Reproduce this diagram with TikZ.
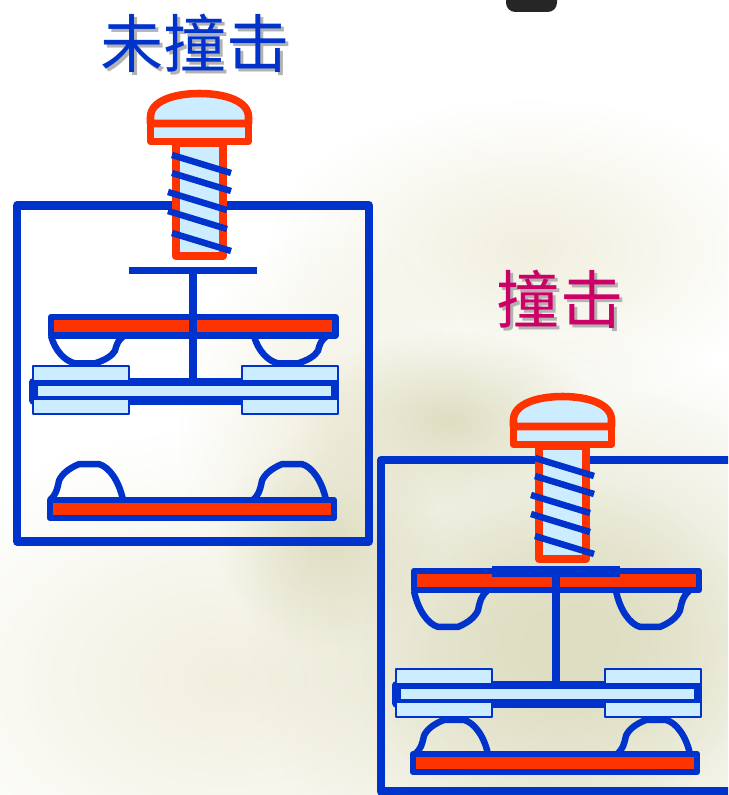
\documentclass[tikz,border=0pt]{standalone}
\usepackage{fontspec}
\newfontfamily\cjk{Noto Sans CJK SC}
\usetikzlibrary{fadings}
\definecolor{kblue}{RGB}{0,51,204}
\definecolor{kred}{RGB}{255,51,0}
\definecolor{klight}{RGB}{204,236,255}
\definecolor{kmag}{RGB}{204,0,102}
\definecolor{cream}{RGB}{241,239,222}
\definecolor{olive}{RGB}{222,222,194}
\def\px{0.92pt}
\tikzfading[name=softblob, inner color=transparent!0, outer color=transparent!100]
\tikzset{
	title/.style={font=\cjk\fontsize{54}{60}\selectfont, inner sep=0pt},
	plate/.style={draw=kblue, fill=kred, line width=6*\px},
	pad/.style={draw=kblue, fill=klight, line width=1.5*\px},
	% contact cup, feet at (0,0) and (73,0)
	pics/dome/.style={code={
		\draw[kblue, line width=6*\px] (0,0) .. controls (4,14) and (14,24) .. (24,26)
		-- (44,26) .. controls (54,23) and (61,19) .. (64,14)
		.. controls (66,7) and (67,4) .. (73,0);}},
	% screw with thread
	pics/screw/.style={code={
		\draw[kred, fill=klight, line width=8*\px] (176,143) rectangle (223,256);
		\foreach \a/\b in {172/155, 172/173, 168/192, 168/211, 172/233}
		\draw[kblue, line width=6*\px] (\a,\b) -- ++(59,18);
		\draw[kred, fill=klight, line width=7*\px] (150.5,123.5) rectangle (248.5,141.5);
		\draw[kred, fill=klight, line width=7*\px] (150.5,123.5) -- (150.5,117)
		.. controls (150.5,101) and (174,93.5) .. (199.5,93.5)
		.. controls (225,93.5) and (248.5,101) .. (248.5,117) -- (248.5,123.5) -- cycle;}},
	% T-bar, stem and moving bar with its pads
	pics/slider/.style={code={
		\draw[kblue, line width=7*\px] (129,270.5) -- (257,270.5);
		\draw[kblue, line width=8*\px] (193,270) -- (193,384);
		\draw[kblue, fill=klight, line width=7.5*\px] (33.5,382) rectangle (335,400.5);
		\foreach \x in {33,242}
		\path[pad] (\x,366) rectangle +(96,15) (\x,399) rectangle +(96,15);}}
}
\begin{document}
\begin{tikzpicture}[x=0.03cm, y=-0.03cm, line join=round]
	\useasboundingbox (0,0) rectangle (728,795);
	\clip (0,0) rectangle (728,795);
	\fill[white] (0,0) rectangle (728,795);
	% background
	\fill[cream, path fading=softblob] (530,250) ellipse (260 and 150);
	\fill[cream, path fading=softblob] (230,680) ellipse (360 and 250);
	\fill[cream, path fading=softblob] (330,430) ellipse (150 and 200);
	\fill[olive, path fading=softblob] (580,640) ellipse (330 and 300);
	\fill[olive, path fading=softblob] (560,650) ellipse (200 and 170);
	\fill[olive, path fading=softblob] (330,540) ellipse (110 and 110);
	\fill[olive, path fading=softblob] (450,420) ellipse (150 and 90);
	\fill[black!85, rounded corners=8pt] (506,-20) rectangle (557,12);
	
	% titles
	\node[title, text=black!30] (t1s) at (198,46) {未撞击};
	\node[title, text=kblue] (t1) at (195,43) {未撞击};
	\node[title, text=black!30] (t2s) at (563,302) {撞击};
	\node[title, text=kmag] (t2) at (560,299) {撞击};
	
	% frames
	\draw[kblue, line width=7.5*\px] (17,205.5) rectangle (369,541.5);
	\draw[kblue, line width=7.5*\px] (381,460) rectangle (760,791.5);
	
	% open contact
	\path[plate] (51,317) rectangle (335.5,335.5);
	\path (51,336) pic[yscale=1.05] {dome} (254,336) pic[yscale=1.05] {dome};
	\path (0,0) pic {slider};
	\path[plate] (50,500) rectangle (334,518);
	\path (123,500) pic[rotate=180, yscale=1.38] {dome}
	(326,500) pic[rotate=180, yscale=1.38] {dome};
	\path (0,0) pic {screw};
	
	% closed contact
	\path[plate] (414,571) rectangle (699,590);
	\path (414,591) pic[yscale=1.38] {dome} (616,591) pic[yscale=1.38] {dome};
	\path (363,303) pic {slider};
	\draw[kblue, line width=5*\px] (492,569) -- (620,569);
	\path[plate] (413,754) rectangle (697,772);
	\path (488,754) pic[rotate=180, yscale=1.31] {dome}
	(690,754) pic[rotate=180, yscale=1.31] {dome};
	\path (363,303) pic {screw};
\end{tikzpicture}
\end{document}
